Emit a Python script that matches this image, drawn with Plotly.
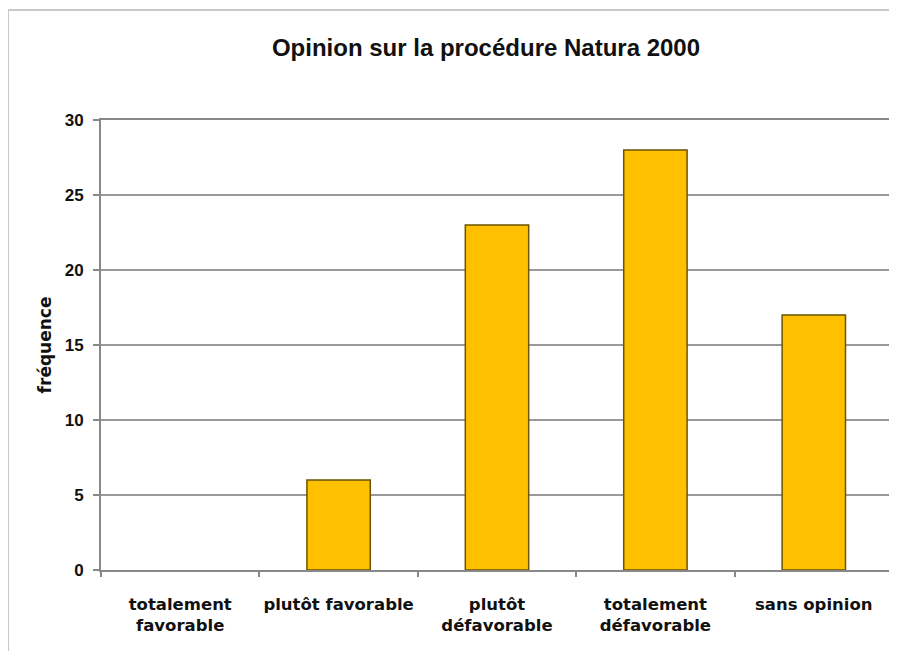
import plotly.graph_objects as go

categories = ["totalement<br>favorable", "plutôt favorable", "plutôt<br>défavorable",
              "totalement<br>défavorable", "sans opinion"]
values = [0, 6, 23, 28, 17]
y_ticks = [0, 5, 10, 15, 20, 25, 30]

# page has an 8px body margin: figure coords = page coords - 8
OFF = 8
W, H = 889, 643
L, T = 101 - OFF, 120 - OFF
R = W - (893 - OFF)
B = H - (570 - OFF)
pw, ph = W - L - R, H - T - B
SANS = "Liberation Sans, Arial, sans-serif"
WIDE = "DejaVu Sans, Verdana, sans-serif"

fig = go.Figure(go.Bar(
    x=categories, y=values,
    marker=dict(color="#FFC000",
                line=dict(color="#6b5300", width=[0 if v == 0 else 1.5 for v in values])),
    width=0.4,
))

fig.update_layout(
    width=W, height=H,
    margin=dict(l=L, r=R, t=T, b=B, autoexpand=False),
    paper_bgcolor="white", plot_bgcolor="white",
    showlegend=False,
    font=dict(family=SANS, color="#111"),
    title=dict(text="<b>Opinion sur la procédure Natura 2000</b>",
               x=(486 - OFF) / W, xanchor="center", y=1 - (48 - OFF) / H, yanchor="middle",
               font=dict(size=24, color="#111", family=SANS, weight="bold")),
    xaxis=dict(showgrid=False, showline=True, linecolor="#888", linewidth=2,
               mirror=True, ticks="outside", tickson="boundaries", ticklen=5,
               tickcolor="#888", tickwidth=1.5, automargin=False, tickangle=0,
               ticklabelstandoff=18,
               tickfont=dict(size=16.5, color="#111", family=WIDE, weight="bold")),
    yaxis=dict(range=[0, 30], tickvals=y_ticks, showgrid=True, gridcolor="#999",
               gridwidth=1.5, showline=True, linecolor="#888", linewidth=2,
               mirror=True, ticks="outside", ticklen=6, tickcolor="#888",
               tickwidth=1.5, zeroline=False, automargin=False,
               ticklabelstandoff=6,
               tickfont=dict(size=17, color="#111", family=SANS, weight="bold"),
               title=dict(text="<b>fréquence</b>",
                          font=dict(size=17, color="#111", family=WIDE, weight="bold"),
                          standoff=9)),
    shapes=[dict(type="rect", xref="paper", yref="paper",
                 x0=(8 - OFF - L) / pw, x1=(920 - OFF - L) / pw,
                 y0=-0.5, y1=(T + ph - (10 - OFF)) / ph,
                 line=dict(color="#c8c8c8", width=2), fillcolor="rgba(0,0,0,0)",
                 layer="below")],
)

fig.write_html("out.html")
